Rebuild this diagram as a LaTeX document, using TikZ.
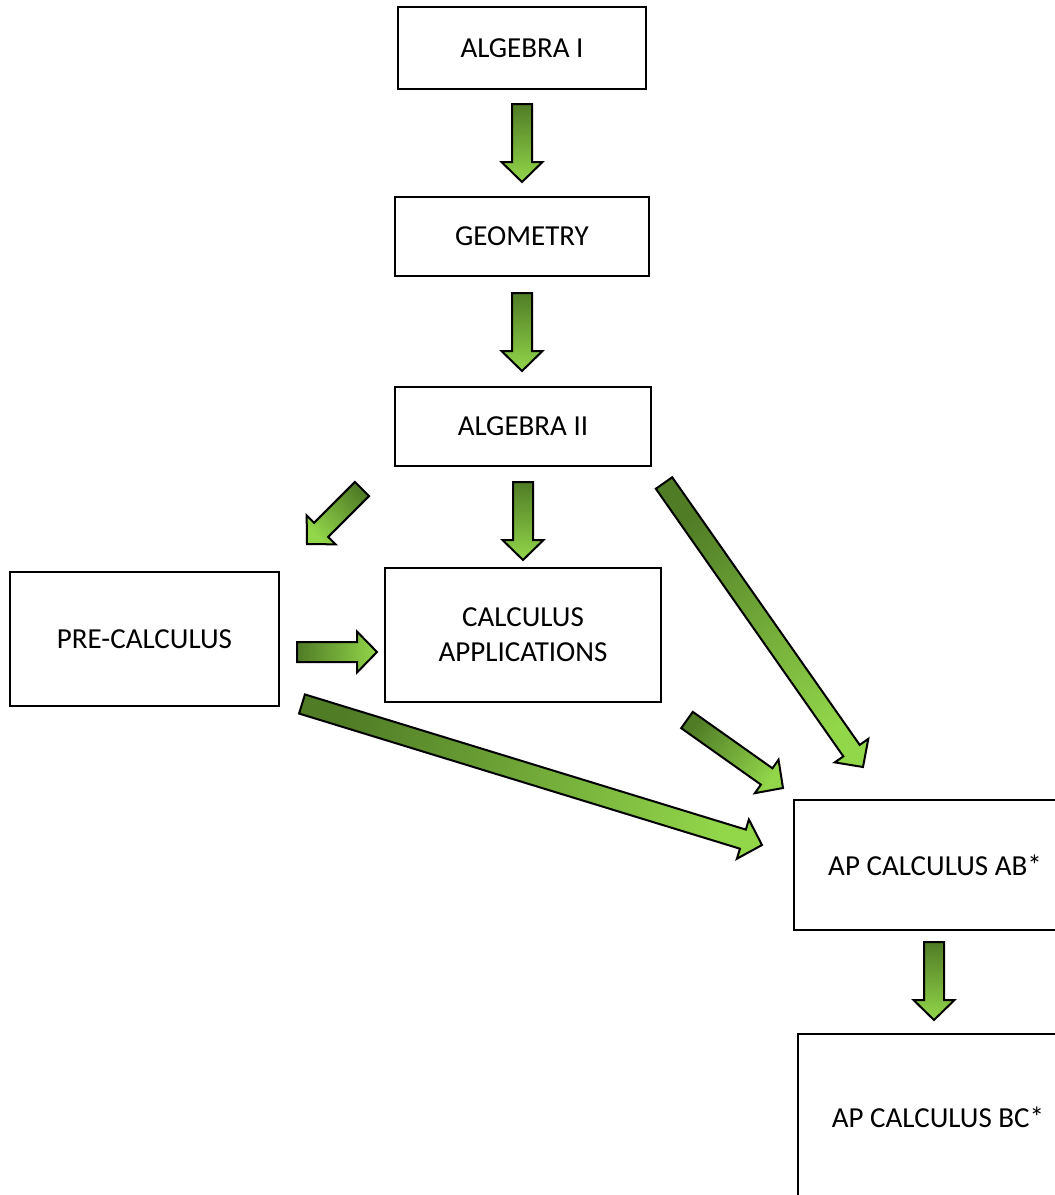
\documentclass[tikz,border=0pt]{standalone}
\usepackage{fontspec}
\setmainfont{Carlito}
\usepackage{xcolor}
\usetikzlibrary{calc}

\definecolor{arrowdark}{RGB}{80,124,38}
\definecolor{arrowlight}{RGB}{146,214,74}

\tikzset{
  course/.style={draw, line width=1.4pt, inner sep=0pt, align=center,
    font=\fontsize{29}{35}\selectfont},
  arrowbody/.style={draw=black, line width=2pt, line join=miter,
    top color=arrowdark, bottom color=arrowlight}
}

% block arrow: tail, tip, shading angle
\newcommand{\blockarrow}[3]{%
  \path[arrowbody, shading angle=#3]
    ($(#1)!10pt!-90:(#2)$) --
    ($($(#2)!20pt!(#1)$)!10pt!-90:(#2)$) --
    ($($(#2)!20pt!(#1)$)!20.5pt!-90:(#2)$) --
    (#2) --
    ($($(#2)!20pt!(#1)$)!20.5pt!90:(#2)$) --
    ($($(#2)!20pt!(#1)$)!10pt!90:(#2)$) --
    ($(#1)!10pt!90:(#2)$) -- cycle;%
}

\begin{document}
\begin{tikzpicture}[x=1pt,y=-1pt]
  \useasboundingbox (0,0) rectangle (1055,1195);
  \clip (0,0) rectangle (1055,1195);

  % Boxes
  \node[course, line width=2.3pt, minimum width=248pt, minimum height=82pt] (alg1) at (522,48) {ALGEBRA I};
  \node[course, minimum width=254pt, minimum height=79pt] (geom) at (522,236.5) {GEOMETRY};
  \node[course, minimum width=256pt, minimum height=79pt] (alg2) at (523,426.5) {ALGEBRA II};
  \node[course, minimum width=269pt, minimum height=134pt] (precalc) at (144.5,639) {PRE-CALCULUS};
  \node[course, minimum width=276pt, minimum height=134pt] (calcapp) at (523,635) {CALCULUS\\APPLICATIONS};
  \node[course, minimum width=282pt, minimum height=130pt] (apab) at (935,865) {AP CALCULUS AB*};
  \node[course, minimum width=280pt, minimum height=166pt] (apbc) at (938,1117) {AP CALCULUS BC*};

  % Arrow ends
  \coordinate (a1s) at (522,104);  \coordinate (a1e) at (522,182);
  \coordinate (a2s) at (522,293);  \coordinate (a2e) at (522,371);
  \coordinate (a3s) at (362,489);  \coordinate (a3e) at (307,544);
  \coordinate (a4s) at (523,482);  \coordinate (a4e) at (523,560);
  \coordinate (a5s) at (664,483);  \coordinate (a5e) at (863,767);
  \coordinate (a6s) at (297,652);  \coordinate (a6e) at (377,652);
  \coordinate (a7s) at (302,704);  \coordinate (a7e) at (762,845);
  \coordinate (a8s) at (687,720);  \coordinate (a8e) at (783,788);
  \coordinate (a9s) at (934,942);  \coordinate (a9e) at (934,1020);

  % Arrows
  \blockarrow{a1s}{a1e}{0}
  \blockarrow{a2s}{a2e}{0}
  \blockarrow{a3s}{a3e}{-45}
  \blockarrow{a4s}{a4e}{0}
  \blockarrow{a5s}{a5e}{35}
  \blockarrow{a6s}{a6e}{90}
  \blockarrow{a7s}{a7e}{73}
  \blockarrow{a8s}{a8e}{55}
  \blockarrow{a9s}{a9e}{0}
\end{tikzpicture}
\end{document}
